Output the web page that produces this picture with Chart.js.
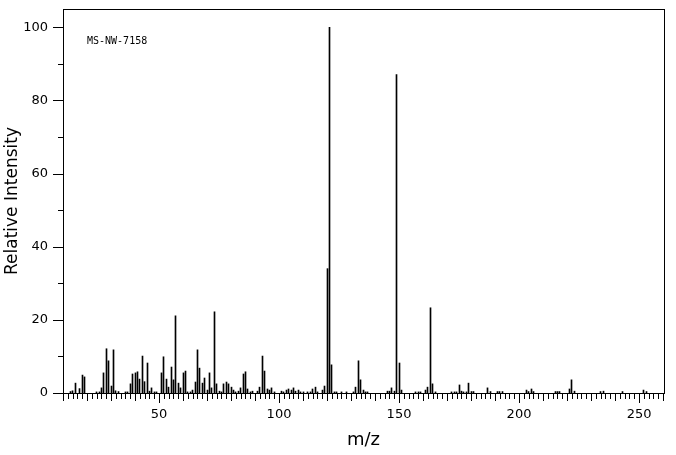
<!DOCTYPE html>
<html>
<head>
<meta charset="utf-8">
<script src="https://cdn.jsdelivr.net/npm/chart.js@4/dist/chart.umd.min.js"></script>
<style>
  html, body { margin: 0; padding: 0; background: #fff; }
  #wrap { width: 676px; height: 455px; }
</style>
</head>
<body>
<div id="wrap"><canvas id="spec" width="676" height="455"></canvas></div>
<script>
// peaks (m/z, relative intensity)
const mz = [13, 14, 15, 17, 18, 19, 24, 25, 26, 27, 28, 29, 30, 31, 32, 33,
  36, 37, 38, 39, 40, 41, 42, 43, 44, 45, 46, 47, 48, 49,
  51, 52, 53, 54, 55, 56, 57, 58, 59, 60, 61, 62, 63, 64, 65, 66, 67, 68, 69, 70,
  71, 72, 73, 74, 75, 76, 77, 78, 79, 80, 81, 82, 83, 84, 85, 86, 87, 88, 89,
  91, 92, 93, 94, 95, 96, 97, 98,
  101, 102, 103, 104, 105, 106, 107, 108, 109, 110, 112, 113, 114, 115, 116,
  118, 119, 120, 121, 122, 123, 124, 126, 128, 131, 132, 133, 134, 135, 136, 137,
  145, 146, 147, 148, 149, 150, 151, 157, 158, 159, 161, 162, 163, 164, 165,
  172, 173, 174, 175, 176, 177, 178, 179, 180, 181, 187, 188, 191, 192, 193,
  203, 204, 205, 206, 215, 216, 217, 221, 222, 223, 234, 235, 243, 252, 253];
const intensity = [0.4, 0.6, 2.7, 1.2, 4.9, 4.4, 0.3, 0.3, 1.4, 5.5, 12.1, 8.8, 1.9, 11.8, 0.6, 0.4,
  0.3, 0.3, 2.5, 5.2, 5.5, 5.8, 3.8, 10.1, 3.1, 8.2, 0.5, 1.4, 0.3, 0.3,
  5.5, 9.9, 3.8, 1.6, 7.1, 3.6, 21.1, 2.7, 1.4, 5.5, 6.0, 0.3, 0.3, 0.8, 3.0, 11.8, 6.8, 2.7, 4.1, 0.8,
  5.5, 1.4, 22.2, 2.5, 0.5, 0.3, 2.5, 3.0, 2.5, 1.6, 0.8, 0.3, 0.5, 1.4, 5.2, 5.8, 1.1, 0.3, 0.5,
  0.5, 1.6, 10.1, 6.0, 1.1, 0.8, 1.4, 0.3,
  0.5, 0.3, 0.8, 1.1, 0.8, 1.4, 0.5, 0.8, 0.3, 0.3, 0.3, 0.3, 1.1, 1.6, 0.3,
  0.8, 1.9, 34.0, 100, 7.7, 0.3, 0.3, 0.3, 0.3, 0.3, 1.6, 8.8, 3.6, 0.8, 0.3, 0.3,
  0.5, 0.5, 1.4, 0.5, 87.1, 8.2, 0.8, 0.3, 0.3, 0.3, 0.8, 1.6, 23.3, 2.5, 0.3,
  0.3, 0.3, 0.3, 2.2, 0.5, 0.3, 0.3, 2.7, 0.4, 0.4, 1.4, 0.4, 0.4, 0.4, 0.4,
  0.8, 0.4, 1.1, 0.4, 0.4, 0.4, 0.4, 1.1, 3.6, 0.5, 0.4, 0.5, 0.4, 0.8, 0.4];

const xTicks = [50, 100, 150, 200, 250];
const yTicks = [0, 20, 40, 60, 80, 100];
const specLabel = "MS-NW-7158";

// snap 1px bars to whole pixels so they come out black, not grey
const snapBars = {
  id: "snapBars",
  afterDatasetsUpdate(chart) {
    chart.getDatasetMeta(0).data.forEach(b => { b.x = Math.floor(b.x) + 0.5; b.width = 1; });
  }
};

// frame, minor ticks and the spectrum id
const frame = {
  id: "frame",
  afterDraw(chart) {
    const { ctx, chartArea: a, scales } = chart;
    const x = scales.x, y = scales.y;
    ctx.save();
    ctx.strokeStyle = "#000";
    ctx.lineWidth = 1;
    ctx.beginPath();
    for (let v = 10; v <= 260; v += 2) {
      const px = Math.round(x.getPixelForValue(v)) + 0.5;
      const len = v % 50 === 0 ? 10 : (v % 10 === 0 ? 8 : 6);
      ctx.moveTo(px, a.bottom);
      ctx.lineTo(px, a.bottom + len);
    }
    for (let v = 0; v <= 100; v += 10) {
      const py = Math.round(y.getPixelForValue(v)) + 0.5;
      const len = v % 20 === 0 ? 10 : 5;
      ctx.moveTo(a.left, py);
      ctx.lineTo(a.left - len, py);
    }
    ctx.stroke();
    ctx.strokeRect(Math.round(a.left) + 0.5, Math.round(a.top) + 0.5,
      Math.round(a.right - a.left), Math.round(a.bottom - a.top));
    ctx.fillStyle = "#000";
    ctx.font = "10px 'DejaVu Sans Mono'";
    ctx.textBaseline = "middle";
    ctx.fillText(specLabel, a.left + 24, a.top + 32);
    ctx.restore();
  }
};

Chart.defaults.color = "#000";
Chart.defaults.font.family = "'DejaVu Sans', sans-serif";

new Chart(document.getElementById("spec"), {
  type: "bar",
  data: {
    datasets: [{
      data: mz.map((m, i) => ({ x: m, y: intensity[i] })),
      backgroundColor: "#000",
      borderWidth: 0,
      barThickness: 1
    }]
  },
  options: {
    responsive: false,
    animation: false,
    devicePixelRatio: 1,
    layout: { padding: { left: 0, top: 9, right: 12, bottom: 0 } },
    plugins: { legend: { display: false }, tooltip: { enabled: false } },
    scales: {
      x: {
        type: "linear",
        min: 10,
        max: 260.4,
        offset: false,
        grid: { display: false, drawTicks: false, offset: false },
        border: { display: false },
        afterBuildTicks: s => { s.ticks = xTicks.map(v => ({ value: v })); },
        afterFit: s => { s.height = 62; s.paddingLeft = 0; s.paddingRight = 0; },
        ticks: { padding: 14, font: { size: 13 }, maxRotation: 0 },
        title: { display: true, text: "m/z", font: { size: 18 }, padding: { top: 0, bottom: 4 } }
      },
      y: {
        min: 0,
        max: 105,
        grid: { display: false, drawTicks: false },
        border: { display: false },
        afterBuildTicks: s => { s.ticks = yTicks.map(v => ({ value: v })); },
        afterFit: s => { s.width = 63; s.paddingTop = 0; s.paddingBottom = 0; },
        ticks: { padding: 15, font: { size: 13 } },
        title: { display: true, text: "Relative Intensity", font: { size: 17 }, padding: { top: 2, bottom: 0 } }
      }
    }
  },
  plugins: [snapBars, frame]
});
</script>
</body>
</html>
